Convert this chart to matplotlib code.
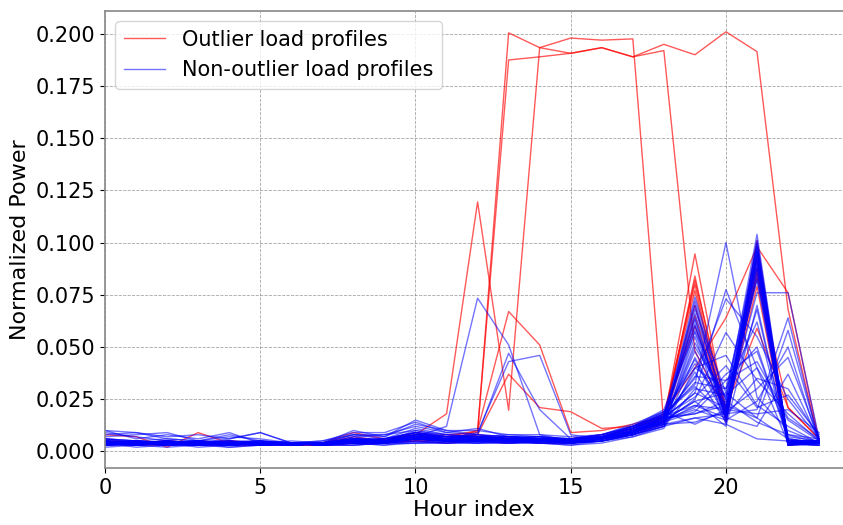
import matplotlib
matplotlib.use("Agg")
import matplotlib.pyplot as plt

hours = list(range(24))

# Daily load profiles flagged as outliers (normalized power per hour)
outlier_profiles = [
    [0.004, 0.005, 0.003, 0.005, 0.004, 0.004, 0.003, 0.004, 0.005, 0.006, 0.007, 0.008,
     0.009, 0.2005, 0.1934, 0.1907, 0.1934, 0.189, 0.195, 0.190, 0.201, 0.1915, 0.068, 0.004],
    [0.005, 0.004, 0.004, 0.003, 0.005, 0.003, 0.004, 0.004, 0.006, 0.005, 0.008, 0.007,
     0.010, 0.1875, 0.189, 0.1907, 0.1934, 0.189, 0.192, 0.048, 0.019, 0.088, 0.005, 0.005],
    [0.003, 0.004, 0.005, 0.004, 0.003, 0.004, 0.003, 0.003, 0.004, 0.006, 0.008, 0.018,
     0.1195, 0.0197, 0.1934, 0.198, 0.197, 0.1976, 0.013, 0.065, 0.018, 0.085, 0.004, 0.004],
    [0.008, 0.007, 0.002, 0.009, 0.004, 0.003, 0.004, 0.004, 0.009, 0.006, 0.007, 0.006,
     0.008, 0.037, 0.021, 0.019, 0.011, 0.012, 0.016, 0.077, 0.015, 0.087, 0.003, 0.005],
    [0.004, 0.003, 0.004, 0.003, 0.005, 0.004, 0.003, 0.004, 0.005, 0.004, 0.006, 0.005,
     0.010, 0.067, 0.051, 0.009, 0.010, 0.013, 0.017, 0.060, 0.020, 0.083, 0.021, 0.006],
    [0.003, 0.004, 0.003, 0.004, 0.003, 0.003, 0.004, 0.003, 0.004, 0.005, 0.005, 0.006,
     0.006, 0.005, 0.006, 0.006, 0.008, 0.011, 0.018, 0.040, 0.064, 0.098, 0.076, 0.005],
    [0.005, 0.003, 0.004, 0.005, 0.004, 0.004, 0.003, 0.004, 0.006, 0.005, 0.006, 0.005,
     0.007, 0.006, 0.005, 0.005, 0.007, 0.010, 0.015, 0.0946, 0.018, 0.079, 0.004, 0.004],
    [0.004, 0.004, 0.003, 0.004, 0.004, 0.003, 0.004, 0.004, 0.005, 0.006, 0.007, 0.006,
     0.006, 0.007, 0.006, 0.005, 0.006, 0.009, 0.014, 0.084, 0.016, 0.1011, 0.003, 0.004],
    [0.003, 0.005, 0.004, 0.003, 0.003, 0.004, 0.003, 0.003, 0.004, 0.004, 0.005, 0.004,
     0.005, 0.005, 0.004, 0.004, 0.006, 0.009, 0.016, 0.082, 0.021, 0.059, 0.021, 0.006],
    [0.006, 0.004, 0.005, 0.004, 0.005, 0.004, 0.004, 0.004, 0.007, 0.005, 0.009, 0.007,
     0.008, 0.006, 0.006, 0.006, 0.007, 0.011, 0.017, 0.080, 0.014, 0.092, 0.003, 0.005],
    [0.004, 0.003, 0.003, 0.004, 0.003, 0.004, 0.003, 0.004, 0.004, 0.004, 0.006, 0.005,
     0.005, 0.004, 0.005, 0.004, 0.006, 0.008, 0.013, 0.070, 0.017, 0.094, 0.005, 0.004],
]

# Regular daily load profiles
normal_profiles = [
    [0.004, 0.003, 0.004, 0.003, 0.004, 0.003, 0.004, 0.004, 0.005, 0.004, 0.006, 0.005,
     0.006, 0.005, 0.006, 0.005, 0.006, 0.008, 0.014, 0.074, 0.024, 0.104, 0.004, 0.004],
    [0.005, 0.004, 0.003, 0.005, 0.003, 0.004, 0.003, 0.004, 0.004, 0.005, 0.007, 0.006,
     0.005, 0.006, 0.005, 0.004, 0.006, 0.009, 0.013, 0.072, 0.019, 0.100, 0.003, 0.005],
    [0.003, 0.004, 0.005, 0.003, 0.004, 0.005, 0.004, 0.003, 0.006, 0.004, 0.008, 0.006,
     0.007, 0.005, 0.006, 0.006, 0.007, 0.010, 0.015, 0.068, 0.028, 0.098, 0.005, 0.004],
    [0.006, 0.005, 0.004, 0.004, 0.005, 0.004, 0.003, 0.004, 0.005, 0.006, 0.009, 0.007,
     0.006, 0.007, 0.006, 0.005, 0.006, 0.009, 0.016, 0.063, 0.016, 0.097, 0.004, 0.003],
    [0.004, 0.002, 0.003, 0.004, 0.002, 0.003, 0.004, 0.003, 0.003, 0.004, 0.005, 0.004,
     0.005, 0.004, 0.005, 0.004, 0.005, 0.007, 0.012, 0.058, 0.021, 0.095, 0.003, 0.004],
    [0.003, 0.004, 0.004, 0.002, 0.003, 0.004, 0.003, 0.004, 0.004, 0.003, 0.004, 0.005,
     0.004, 0.005, 0.004, 0.003, 0.005, 0.008, 0.013, 0.055, 0.013, 0.093, 0.004, 0.003],
    [0.005, 0.003, 0.005, 0.004, 0.004, 0.003, 0.004, 0.003, 0.006, 0.005, 0.007, 0.006,
     0.006, 0.005, 0.005, 0.006, 0.007, 0.009, 0.014, 0.050, 0.026, 0.092, 0.005, 0.005],
    [0.004, 0.005, 0.003, 0.003, 0.004, 0.005, 0.003, 0.004, 0.005, 0.004, 0.006, 0.005,
     0.004, 0.006, 0.004, 0.005, 0.006, 0.008, 0.012, 0.045, 0.018, 0.090, 0.003, 0.004],
    [0.003, 0.003, 0.004, 0.005, 0.003, 0.004, 0.004, 0.003, 0.004, 0.006, 0.008, 0.007,
     0.006, 0.006, 0.007, 0.005, 0.006, 0.010, 0.015, 0.066, 0.022, 0.088, 0.004, 0.003],
    [0.004, 0.004, 0.003, 0.004, 0.005, 0.003, 0.003, 0.004, 0.006, 0.005, 0.009, 0.006,
     0.007, 0.006, 0.005, 0.004, 0.007, 0.009, 0.017, 0.061, 0.015, 0.087, 0.003, 0.005],
    [0.002, 0.003, 0.002, 0.003, 0.002, 0.003, 0.003, 0.003, 0.003, 0.004, 0.004, 0.004,
     0.005, 0.004, 0.004, 0.003, 0.004, 0.007, 0.011, 0.040, 0.030, 0.062, 0.004, 0.004],
    [0.005, 0.004, 0.004, 0.003, 0.003, 0.004, 0.004, 0.004, 0.007, 0.005, 0.010, 0.007,
     0.008, 0.006, 0.006, 0.005, 0.006, 0.010, 0.018, 0.070, 0.017, 0.085, 0.003, 0.003],
    [0.004, 0.003, 0.005, 0.004, 0.004, 0.004, 0.003, 0.003, 0.004, 0.004, 0.006, 0.005,
     0.005, 0.005, 0.004, 0.004, 0.005, 0.008, 0.013, 0.052, 0.025, 0.083, 0.005, 0.004],
    [0.003, 0.005, 0.004, 0.003, 0.005, 0.003, 0.004, 0.004, 0.005, 0.005, 0.007, 0.006,
     0.006, 0.007, 0.006, 0.005, 0.006, 0.009, 0.014, 0.048, 0.020, 0.068, 0.004, 0.005],
    [0.006, 0.004, 0.003, 0.005, 0.004, 0.005, 0.004, 0.003, 0.006, 0.004, 0.008, 0.007,
     0.007, 0.006, 0.005, 0.006, 0.007, 0.011, 0.016, 0.036, 0.034, 0.050, 0.006, 0.004],
    [0.004, 0.003, 0.004, 0.004, 0.003, 0.003, 0.003, 0.004, 0.004, 0.003, 0.005, 0.004,
     0.004, 0.004, 0.005, 0.004, 0.005, 0.008, 0.012, 0.030, 0.027, 0.040, 0.004, 0.003],
    [0.005, 0.004, 0.004, 0.004, 0.003, 0.004, 0.004, 0.004, 0.005, 0.005, 0.007, 0.006,
     0.006, 0.005, 0.005, 0.005, 0.006, 0.009, 0.014, 0.022, 0.020, 0.076, 0.076, 0.006],
    [0.004, 0.004, 0.005, 0.003, 0.004, 0.004, 0.003, 0.004, 0.006, 0.004, 0.006, 0.005,
     0.006, 0.006, 0.005, 0.004, 0.006, 0.010, 0.013, 0.016, 0.018, 0.020, 0.064, 0.004],
    [0.003, 0.004, 0.003, 0.004, 0.004, 0.003, 0.004, 0.004, 0.005, 0.005, 0.007, 0.006,
     0.005, 0.005, 0.006, 0.005, 0.007, 0.011, 0.016, 0.018, 0.022, 0.016, 0.058, 0.005],
    [0.005, 0.005, 0.004, 0.005, 0.003, 0.004, 0.004, 0.003, 0.004, 0.006, 0.009, 0.007,
     0.007, 0.006, 0.005, 0.006, 0.006, 0.009, 0.015, 0.020, 0.015, 0.024, 0.050, 0.004],
    [0.004, 0.003, 0.004, 0.003, 0.004, 0.004, 0.003, 0.004, 0.005, 0.004, 0.006, 0.006,
     0.006, 0.005, 0.006, 0.005, 0.006, 0.010, 0.013, 0.014, 0.019, 0.030, 0.045, 0.006],
    [0.003, 0.004, 0.004, 0.004, 0.005, 0.003, 0.004, 0.003, 0.004, 0.005, 0.007, 0.005,
     0.005, 0.006, 0.005, 0.004, 0.005, 0.008, 0.017, 0.022, 0.016, 0.012, 0.037, 0.005],
    [0.006, 0.005, 0.004, 0.004, 0.004, 0.004, 0.004, 0.004, 0.006, 0.006, 0.009, 0.008,
     0.007, 0.007, 0.006, 0.006, 0.008, 0.012, 0.018, 0.032, 0.100, 0.026, 0.010, 0.004],
    [0.005, 0.004, 0.005, 0.004, 0.003, 0.004, 0.003, 0.004, 0.005, 0.005, 0.008, 0.006,
     0.006, 0.006, 0.006, 0.005, 0.007, 0.011, 0.016, 0.028, 0.0775, 0.040, 0.015, 0.005],
    [0.004, 0.004, 0.003, 0.005, 0.004, 0.003, 0.004, 0.003, 0.005, 0.004, 0.007, 0.006,
     0.006, 0.005, 0.005, 0.005, 0.006, 0.010, 0.017, 0.035, 0.073, 0.055, 0.025, 0.006],
    [0.003, 0.003, 0.004, 0.003, 0.003, 0.004, 0.004, 0.004, 0.004, 0.005, 0.006, 0.005,
     0.005, 0.005, 0.004, 0.004, 0.005, 0.009, 0.014, 0.025, 0.057, 0.034, 0.018, 0.005],
    [0.005, 0.004, 0.004, 0.004, 0.004, 0.005, 0.003, 0.004, 0.006, 0.005, 0.008, 0.007,
     0.007, 0.006, 0.006, 0.005, 0.007, 0.011, 0.019, 0.040, 0.046, 0.022, 0.012, 0.004],
    [0.004, 0.005, 0.003, 0.003, 0.004, 0.004, 0.004, 0.003, 0.005, 0.004, 0.006, 0.005,
     0.006, 0.005, 0.005, 0.004, 0.006, 0.009, 0.015, 0.021, 0.037, 0.048, 0.008, 0.004],
    [0.003, 0.004, 0.004, 0.004, 0.003, 0.003, 0.003, 0.004, 0.004, 0.004, 0.005, 0.005,
     0.005, 0.004, 0.005, 0.005, 0.006, 0.010, 0.016, 0.018, 0.024, 0.014, 0.008, 0.006],
    [0.004, 0.003, 0.003, 0.003, 0.004, 0.004, 0.004, 0.003, 0.003, 0.004, 0.004, 0.004,
     0.004, 0.004, 0.004, 0.004, 0.005, 0.008, 0.012, 0.016, 0.013, 0.006, 0.005, 0.005],
    [0.005, 0.004, 0.005, 0.004, 0.003, 0.004, 0.004, 0.004, 0.006, 0.005, 0.008, 0.006,
     0.006, 0.006, 0.005, 0.005, 0.007, 0.012, 0.019, 0.013, 0.020, 0.018, 0.020, 0.009],
    [0.004, 0.004, 0.004, 0.003, 0.004, 0.003, 0.004, 0.004, 0.005, 0.005, 0.007, 0.012,
     0.0734, 0.051, 0.008, 0.005, 0.006, 0.009, 0.015, 0.024, 0.012, 0.070, 0.004, 0.004],
    [0.003, 0.004, 0.003, 0.004, 0.003, 0.004, 0.003, 0.004, 0.004, 0.005, 0.006, 0.006,
     0.009, 0.043, 0.046, 0.008, 0.006, 0.010, 0.016, 0.028, 0.021, 0.082, 0.003, 0.004],
    [0.005, 0.003, 0.004, 0.004, 0.004, 0.004, 0.004, 0.003, 0.005, 0.004, 0.007, 0.005,
     0.008, 0.047, 0.020, 0.006, 0.007, 0.009, 0.014, 0.038, 0.014, 0.096, 0.005, 0.005],
    [0.006, 0.005, 0.006, 0.005, 0.005, 0.005, 0.004, 0.004, 0.008, 0.007, 0.015, 0.010,
     0.008, 0.007, 0.007, 0.006, 0.007, 0.011, 0.018, 0.044, 0.016, 0.094, 0.004, 0.004],
    [0.010, 0.009, 0.007, 0.008, 0.006, 0.009, 0.004, 0.005, 0.008, 0.008, 0.010, 0.008,
     0.007, 0.008, 0.007, 0.006, 0.008, 0.012, 0.017, 0.033, 0.030, 0.091, 0.007, 0.005],
    [0.009, 0.007, 0.005, 0.004, 0.006, 0.009, 0.004, 0.004, 0.008, 0.006, 0.011, 0.008,
     0.007, 0.006, 0.007, 0.005, 0.006, 0.010, 0.015, 0.060, 0.019, 0.101, 0.005, 0.004],
    [0.008, 0.009, 0.006, 0.005, 0.008, 0.005, 0.004, 0.003, 0.007, 0.008, 0.012, 0.009,
     0.008, 0.007, 0.006, 0.006, 0.007, 0.012, 0.017, 0.064, 0.016, 0.099, 0.004, 0.005],
    [0.010, 0.006, 0.008, 0.006, 0.009, 0.004, 0.005, 0.004, 0.010, 0.007, 0.013, 0.010,
     0.010, 0.008, 0.008, 0.007, 0.008, 0.013, 0.019, 0.042, 0.022, 0.089, 0.006, 0.004],
    [0.007, 0.008, 0.009, 0.005, 0.007, 0.006, 0.004, 0.005, 0.009, 0.009, 0.014, 0.009,
     0.011, 0.007, 0.007, 0.006, 0.008, 0.012, 0.020, 0.057, 0.017, 0.096, 0.005, 0.005],
    [0.004, 0.005, 0.004, 0.005, 0.003, 0.004, 0.004, 0.004, 0.006, 0.005, 0.008, 0.007,
     0.006, 0.007, 0.006, 0.005, 0.007, 0.011, 0.017, 0.026, 0.041, 0.021, 0.027, 0.008],
    [0.003, 0.004, 0.004, 0.003, 0.004, 0.003, 0.003, 0.004, 0.005, 0.004, 0.006, 0.005,
     0.005, 0.006, 0.005, 0.004, 0.006, 0.010, 0.014, 0.019, 0.034, 0.043, 0.016, 0.006],
    [0.005, 0.003, 0.005, 0.004, 0.004, 0.004, 0.004, 0.003, 0.006, 0.006, 0.009, 0.006,
     0.007, 0.006, 0.006, 0.006, 0.007, 0.012, 0.018, 0.031, 0.017, 0.035, 0.030, 0.007],
    [0.004, 0.004, 0.003, 0.004, 0.003, 0.004, 0.003, 0.004, 0.004, 0.005, 0.007, 0.005,
     0.006, 0.005, 0.005, 0.005, 0.006, 0.009, 0.015, 0.024, 0.028, 0.016, 0.006, 0.004],
]

fig = plt.figure(figsize=(8.43, 5.25), dpi=100)
ax = fig.add_axes([0.1246, 0.1086, 0.8754, 0.8704])

for i, profile in enumerate(outlier_profiles):
    ax.plot(hours, profile, color="red", alpha=0.65, linewidth=1,
            label="Outlier load profiles" if i == 0 else None)
for i, profile in enumerate(normal_profiles):
    ax.plot(hours, profile, color="blue", alpha=0.55, linewidth=1,
            label="Non-outlier load profiles" if i == 0 else None)

ax.set_xlim(0, 23.77)
ax.set_xticks([0, 5, 10, 15, 20])
ax.set_xlabel("Hour index", fontsize=16, labelpad=2)
ax.set_ylabel("Normalized Power", fontsize=16)
ax.tick_params(labelsize=15, colors="black")
ax.grid(True, linestyle="--", color="gray", alpha=0.7, linewidth=0.6)
for side in ("left", "bottom", "top"):
    ax.spines[side].set_color("#888888")
    ax.spines[side].set_linewidth(1.2)
ax.spines["right"].set_visible(False)
ax.legend(loc="upper left", fontsize=15)

plt.savefig("out.png", dpi=100)
plt.close()
